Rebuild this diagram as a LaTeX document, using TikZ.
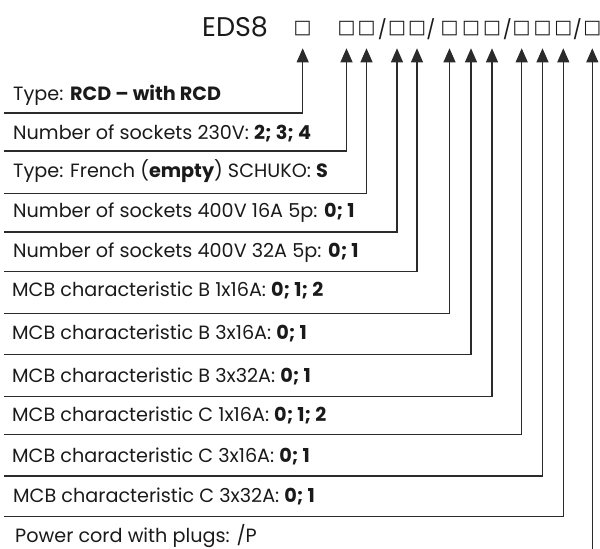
\documentclass[tikz,border=0pt]{standalone}
\usepackage{fontspec}
\setmainfont{Poppins}
\newfontfamily\symfont{DejaVu Sans}
\usetikzlibrary{arrows.meta}
\definecolor{ink}{HTML}{1A1A1A}
\definecolor{wire}{HTML}{2B2B2B}
\tikzset{
  rowtext/.style={anchor=base west, inner sep=0pt, text=ink, font=\fontsize{19.2}{21}\selectfont},
  sq/.style={inner sep=0pt, text=ink, font=\symfont\bfseries\fontsize{19}{21}\selectfont},
  slash/.style={inner sep=0pt, text=ink, font=\fontsize{19}{21}\selectfont},
  titletext/.style={anchor=base west, inner sep=0pt, text=ink, font=\fontsize{27}{29}\selectfont},
  conn/.style={draw=wire, line width=1.1pt, -{Triangle[length=14pt,width=12pt]}}
}
\begin{document}
\begin{tikzpicture}[x=1pt,y=-1pt]
\useasboundingbox (0,0) rectangle (600,549);
% title
\node[titletext] (title) at (202,36) {EDS8};
\node[sq] (s1) at (302.7,28.5) {□};
\node[sq] (s2) at (346.5,28.5) {□};
\node[sq] (s3) at (366.5,28.5) {□};
\node[slash] (d1) at (382.5,29) {/};
\node[sq] (s4) at (397,28.5) {□};
\node[sq] (s5) at (417,28.5) {□};
\node[slash] (d2) at (431,29) {/};
\node[sq] (s6) at (449.5,28.5) {□};
\node[sq] (s7) at (471,28.5) {□};
\node[sq] (s8) at (492,28.5) {□};
\node[slash] (d3) at (507.5,29) {/};
\node[sq] (s9) at (521.7,28.5) {□};
\node[sq] (s10) at (542.5,28.5) {□};
\node[sq] (s11) at (563.3,28.5) {□};
\node[slash] (d4) at (577.5,29) {/};
\node[sq] (s12) at (592.3,28.5) {□};
% arrow tips
\foreach \i/\x in {1/302.7,2/346.5,3/366.5,4/397,5/417,6/449.5,7/471,8/492,9/521.7,10/542.5,11/563.3,12/592.3}
  \coordinate (t\i) at (\x,48.3);
% row texts
\node[rowtext] (r1) at (13,100) {Type: \textbf{RCD – with RCD}};
\node[rowtext] (r2) at (13,139) {Number of sockets 230V: \textbf{2; 3; 4}};
\node[rowtext] (r3) at (13,177) {Type: French (\textbf{empty}) SCHUKO: \textbf{S}};
\node[rowtext] (r4) at (13,217) {Number of sockets 400V 16A 5p: \textbf{0; 1}};
\node[rowtext] (r5) at (13,257) {Number of sockets 400V 32A 5p: \textbf{0; 1}};
\node[rowtext] (r6) at (12,296) {MCB characteristic B 1x16A: \textbf{0; 1; 2}};
\node[rowtext] (r7) at (12,339) {MCB characteristic B 3x16A: \textbf{0; 1}};
\node[rowtext] (r8) at (12,382) {MCB characteristic B 3x32A: \textbf{0; 1}};
\node[rowtext] (r9) at (12,421) {MCB characteristic C 1x16A: \textbf{0; 1; 2}};
\node[rowtext] (r10) at (12,462) {MCB characteristic C 3x16A: \textbf{0; 1}};
\node[rowtext] (r11) at (13,502) {MCB characteristic C 3x32A: \textbf{0; 1}};
\node[rowtext] (r12) at (15,542) {Power cord with plugs: /P};
% line starts
\coordinate (b1) at (4,113);
\coordinate (b2) at (4,151);
\coordinate (b3) at (4,193.5);
\coordinate (b4) at (4,232);
\coordinate (b5) at (4,271.5);
\coordinate (b6) at (4,313.3);
\coordinate (b7) at (4,354.5);
\coordinate (b8) at (4,396.5);
\coordinate (b9) at (4,434.3);
\coordinate (b10) at (4,476);
\coordinate (b11) at (4,516.7);
\coordinate (b12) at (592.3,549);
% connectors
\foreach \i in {1,...,11}
  \draw[conn] (b\i) -| (t\i);
\draw[conn] (b12) -- (t12);
\end{tikzpicture}
\end{document}
